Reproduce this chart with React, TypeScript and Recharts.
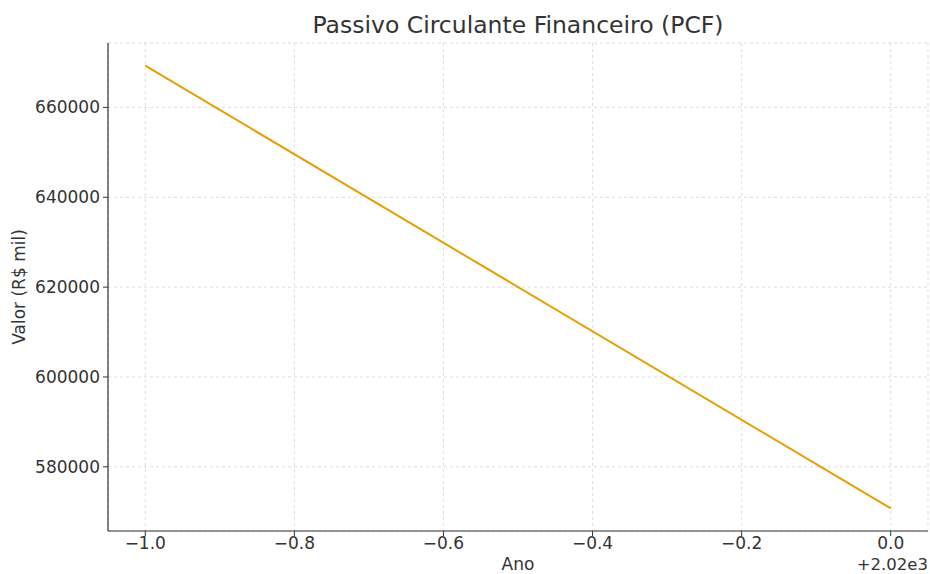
import React from "react";
import { LineChart, Line, XAxis, YAxis, CartesianGrid } from "recharts";

const years = [2019, 2020];
const valores = [669300, 570750];
const xTicks = [-1.0, -0.8, -0.6, -0.4, -0.2, 0.0];
const yTicks = [580000, 600000, 620000, 640000, 660000];

const data = years.map((y, i) => ({ x: y - 2020, v: valores[i] }));

const FONT = "'DejaVu Sans', sans-serif";
const TXT = "#333333";

const fmtX = (v: number) => {
  const s = Math.abs(v).toFixed(1);
  return v < -1e-9 ? "\u2212" + s : s;
};

export default function App() {
  return (
    <div style={{ position: "absolute", left: 0, top: 0, width: 930, height: 574, background: "#fff" }}>
      <LineChart
        width={930}
        height={574}
        data={data}
        margin={{ top: 43, right: 2, bottom: 0, left: 0 }}
      >
        <CartesianGrid stroke="#d4d4d4" strokeDasharray="3 3" strokeWidth={0.8} />
        <XAxis
          dataKey="x"
          type="number"
          domain={[-1.05, 0.05]}
          ticks={xTicks}
          tickFormatter={fmtX}
          height={43}
          stroke="#333"
          tickLine={{ stroke: "#333" }}
          tickSize={5}
          tickMargin={1}
          axisLine={{ stroke: "#333", strokeWidth: 1.2 }}
          tick={{ fill: TXT, fontSize: 17, fontFamily: FONT }}
          interval={0}
        />
        <YAxis
          type="number"
          domain={[565710, 674340]}
          ticks={yTicks}
          width={108}
          stroke="#333"
          tickSize={5}
          tickMargin={3}
          axisLine={{ stroke: "#333", strokeWidth: 1.2 }}
          tick={{ fill: TXT, fontSize: 17, fontFamily: FONT }}
          interval={0}
          allowDataOverflow
        />
        <Line
          dataKey="v"
          stroke="#E69F00"
          strokeWidth={2}
          dot={false}
          isAnimationActive={false}
        />
        <text x={518} y={26} textAnchor="middle" dominantBaseline="middle" fontFamily={FONT} fontSize={23.5} fill={TXT}>
          Passivo Circulante Financeiro (PCF)
        </text>
        <text x={518} y={565} textAnchor="middle" dominantBaseline="middle" fontFamily={FONT} fontSize={17} fill={TXT}>
          Ano
        </text>
        <text x={928} y={565} textAnchor="end" dominantBaseline="middle" fontFamily={FONT} fontSize={16.5} fill={TXT}>
          +2.02e3
        </text>
        <text
          x={20}
          y={287}
          textAnchor="middle"
          dominantBaseline="middle"
          fontFamily={FONT}
          fontSize={17}
          fill={TXT}
          transform="rotate(-90 20 287)"
        >
          Valor (R$ mil)
        </text>
      </LineChart>
    </div>
  );
}
